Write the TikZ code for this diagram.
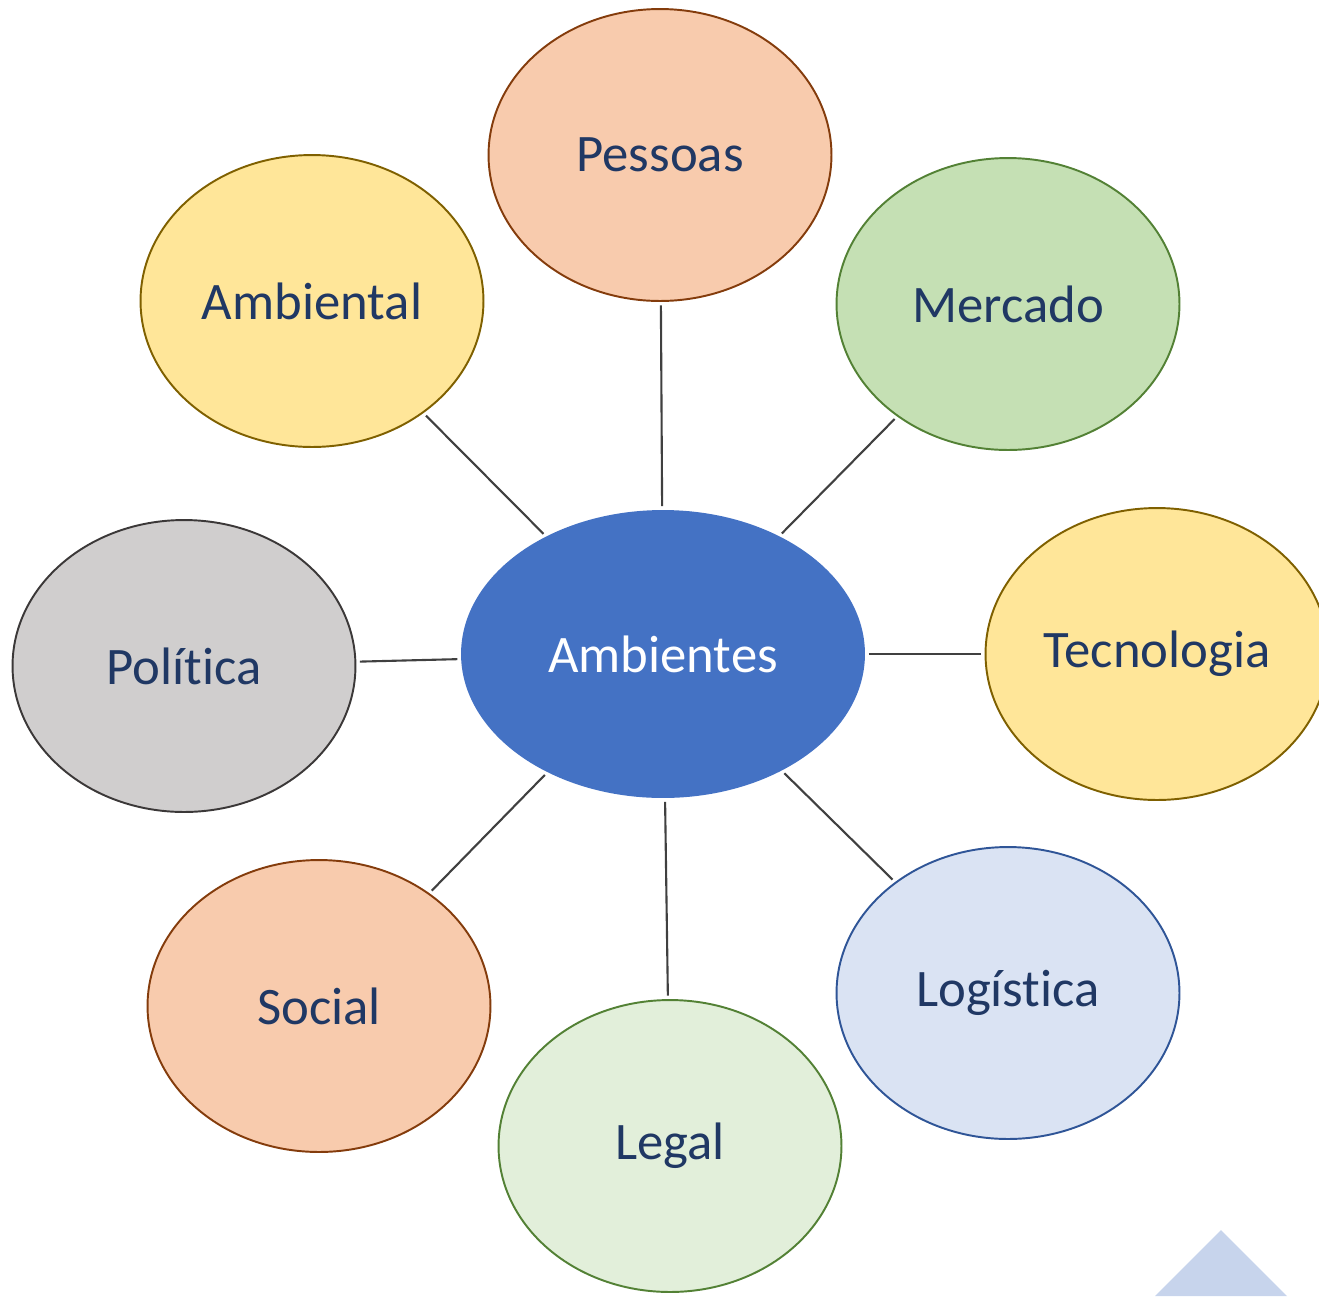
\documentclass[tikz,border=0pt]{standalone}
\usepackage{fontspec}
\setmainfont[RawFeature={-liga;-clig;-calt;-dlig}]{Carlito}
\usetikzlibrary{shapes.geometric}

\definecolor{navy}{HTML}{203864}
\definecolor{line}{HTML}{404040}
\definecolor{centre}{HTML}{4472C4}
\definecolor{peach}{HTML}{F8CBAD}
\definecolor{peachrim}{HTML}{843C0C}
\definecolor{gold}{HTML}{FFE699}
\definecolor{goldrim}{HTML}{7F6000}
\definecolor{mint}{HTML}{C5E0B4}
\definecolor{pale}{HTML}{E2EFDA}
\definecolor{greenrim}{HTML}{538135}
\definecolor{stone}{HTML}{D0CECE}
\definecolor{stonerim}{HTML}{3B3838}
\definecolor{sky}{HTML}{DAE3F3}
\definecolor{skyrim}{HTML}{2F5597}
\definecolor{wedge}{HTML}{C7D4EC}

\begin{document}
\begin{tikzpicture}[x=0.02cm,y=-0.02cm,
	bubble/.style={shape=ellipse, draw, line width=1.1pt, inner sep=0pt,
		minimum width=6.86cm, minimum height=5.84cm, text=navy,
		font=\fontsize{30}{36}\selectfont},
	link/.style={draw=line, line width=1.2pt, shorten <=2pt, shorten >=2pt}]
	\useasboundingbox (0,0) rectangle (1319,1296);
	\clip (0,0) rectangle (1319,1296);
	\fill[wedge] (1155,1296) -- (1221,1230) -- (1287,1296) -- cycle;
	\path (663,654) node (0) [shape=ellipse, fill=centre, inner sep=0pt, minimum width=8.08cm, minimum height=5.76cm, text=white, font=\fontsize{30}{36}\selectfont] {Ambientes}
		  (660,155) node (1) [bubble, fill=peach, draw=peachrim] {Pessoas}
		  (1008,304) node (2) [bubble, fill=mint, draw=greenrim] {Mercado}
		  (1157,654) node (3) [bubble, fill=gold, draw=goldrim] {Tecnologia}
		  (1008,993) node (4) [bubble, fill=sky, draw=skyrim] {Logística}
		  (670,1146) node (5) [bubble, fill=pale, draw=greenrim] {Legal}
		  (319,1006) node (6) [bubble, fill=peach, draw=peachrim] {Social}
		  (184,666) node (7) [bubble, fill=stone, draw=stonerim] {Política}
		  (312,301) node (8) [bubble, fill=gold, draw=goldrim] {Ambiental};
	\draw[link] (0) -- (1);
	\draw[link] (0) -- (2);
	\draw[link] (0) -- (3);
	\draw[link] (0) -- (4);
	\draw[link] (0) -- (5);
	\draw[link] (0) -- (6);
	\draw[link] (0) -- (7);
	\draw[link] (0) -- (8);
\end{tikzpicture}
\end{document}
